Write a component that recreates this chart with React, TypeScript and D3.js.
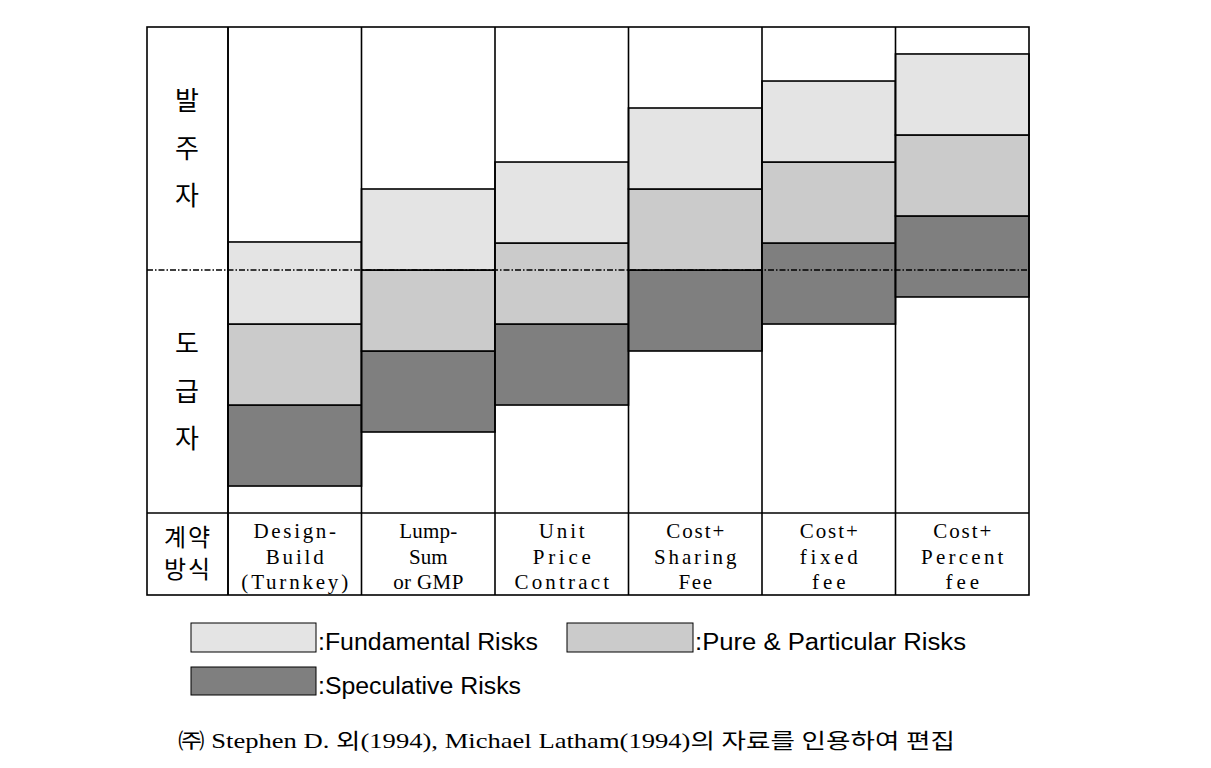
import React from "react";
import * as d3 from "d3";

const categories = ["Design-Build (Turnkey)", "Lump-Sum or GMP", "Unit Price Contract", "Cost+ Sharing Fee", "Cost+ fixed fee", "Cost+ Percent fee"];
const categoryLines = [
  ["Design-", "Build", "(Turnkey)"],
  ["Lump-", "Sum", "or GMP"],
  ["Unit", "Price", "Contract"],
  ["Cost+", "Sharing", "Fee"],
  ["Cost+", "fixed", "fee"],
  ["Cost+", "Percent", "fee"],
];
// risk allocation (units: 0 = bottom, 6 = top, 3 = owner/contractor boundary)
const speculativeBase = [0.333, 1.0, 1.333, 2.0, 2.333, 2.667];
const speculative = [1, 1, 1, 1, 1, 1];
const pure = [1, 1, 1, 1, 1, 1];
const fundamental = [1.013, 1, 1, 1, 1, 1];
const boundary = 3;
const seriesNames = ["Fundamental Risks", "Pure & Particular Risks", "Speculative Risks"];
const colors = ["#e4e4e4", "#cbcbcb", "#7f7f7f"];
const ownerLabel = ["발", "주", "자"];
const contractorLabel = ["도", "급", "자"];
const methodLabel = ["계약", "방식"];
const footnote = "㈜ Stephen D. 외(1994), Michael Latham(1994)의 자료를 인용하여 편집";

let measureCtx: CanvasRenderingContext2D | null = null;
function measure(text: string, font: string): number {
  if (!measureCtx) {
    const c = document.createElement("canvas");
    measureCtx = c.getContext("2d");
  }
  if (!measureCtx) return text.length * 10;
  measureCtx.font = font;
  return measureCtx.measureText(text).width;
}

export default function App() {
  const left = 147, right = 1029, top = 27, plotBottom = 513, bottom = 595, labelColR = 228;
  const x = d3.scaleBand<number>().domain(d3.range(categories.length)).range([labelColR, right]).padding(0);
  const y = d3.scaleLinear().domain([0, 6]).range([plotBottom, top]);
  const sw = 1.6;

  const segs: { i: number; y0: number; y1: number; c: string }[] = [];
  categories.forEach((_, i) => {
    const b0 = speculativeBase[i];
    const b1 = b0 + speculative[i];
    const b2 = b1 + pure[i];
    const b3 = b2 + fundamental[i];
    segs.push({ i, y0: b0, y1: b1, c: colors[2] });
    segs.push({ i, y0: b1, y1: b2, c: colors[1] });
    segs.push({ i, y0: b2, y1: b3, c: colors[0] });
  });

  const korFont = "'Noto Sans CJK KR', sans-serif";
  const serifFont = "'Liberation Serif', 'DejaVu Serif', serif";
  const catFontSize = 21;
  const adv = 12.2;
  const legendFont = "'Liberation Sans', Arial, sans-serif";

  return (
    <svg width={1211} height={768} style={{ position: "fixed", left: 0, top: 0, background: "#fff" }}>
      <rect x={0} y={0} width={1211} height={768} fill="#fff" />
      {segs.map((s, k) => (
        <rect key={k} x={x(s.i)!} y={y(s.y1)} width={x.bandwidth()} height={y(s.y0) - y(s.y1)} fill={s.c} stroke="#000" strokeWidth={sw} />
      ))}
      {categories.map((_, i) => (
        <line key={i} x1={x(i)!} x2={x(i)!} y1={top} y2={bottom} stroke="#000" strokeWidth={sw} />
      ))}
      <line x1={labelColR} x2={labelColR} y1={top} y2={bottom} stroke="#000" strokeWidth={sw} />
      <line x1={left} x2={right} y1={plotBottom} y2={plotBottom} stroke="#000" strokeWidth={sw} />
      <rect x={left} y={top} width={right - left} height={bottom - top} fill="none" stroke="#000" strokeWidth={sw} />
      <line x1={left} x2={right} y1={y(boundary)} y2={y(boundary)} stroke="#000" strokeWidth={1.4} strokeDasharray="6 2 1.5 2" />

      {ownerLabel.map((t, k) => (
        <text key={k} x={187} y={110 + k * 47.5} textAnchor="middle" fontFamily={korFont} fontSize={26} fill="#000">{t}</text>
      ))}
      {contractorLabel.map((t, k) => (
        <text key={k} x={187} y={353 + k * 47.5} textAnchor="middle" fontFamily={korFont} fontSize={26} fill="#000">{t}</text>
      ))}
      {methodLabel.map((t, k) => (
        <text key={k} x={188} y={546 + k * 32} textAnchor="middle" fontFamily={korFont} fontSize={24} fill="#000" letterSpacing={2}>{t}</text>
      ))}

      {categoryLines.map((lines, i) =>
        lines.map((t, k) => {
          const cx = x(i)! + x.bandwidth() / 2;
          const natural = measure(t, `${catFontSize}px 'Liberation Serif'`);
          const target = Math.max(natural, t.length * adv - 3);
          return (
            <text key={i + "-" + k} x={cx} y={538 + k * 25.5} textAnchor="middle" fontFamily={serifFont} fontSize={catFontSize} fill="#000"
              textLength={target} lengthAdjust="spacing">{t}</text>
          );
        })
      )}

      {/* legend */}
      <rect x={191} y={623} width={125} height={29} fill={colors[0]} stroke="#000" strokeWidth={1} />
      <text x={318} y={650} fontFamily={legendFont} fontSize={23} textLength={220} lengthAdjust="spacingAndGlyphs">{":" + seriesNames[0]}</text>
      <rect x={567} y={623} width={126} height={29} fill={colors[1]} stroke="#000" strokeWidth={1} />
      <text x={695} y={650} fontFamily={legendFont} fontSize={23} textLength={271} lengthAdjust="spacingAndGlyphs">{":" + seriesNames[1]}</text>
      <rect x={191} y={667} width={125} height={28} fill={colors[2]} stroke="#000" strokeWidth={1} />
      <text x={318} y={694} fontFamily={legendFont} fontSize={23} textLength={203} lengthAdjust="spacingAndGlyphs">{":" + seriesNames[2]}</text>

      <text x={178} y={748} fontFamily="'Liberation Serif', 'Noto Sans CJK KR', serif" fontSize={21} textLength={777} lengthAdjust="spacingAndGlyphs" fill="#000">{footnote}</text>
    </svg>
  );
}
